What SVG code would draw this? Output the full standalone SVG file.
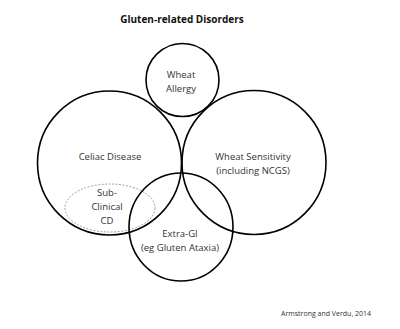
<svg xmlns="http://www.w3.org/2000/svg" width="400" height="329" viewBox="0 0 400 329">
<style>
text{font-family:"Open Sans","Liberation Sans",sans-serif;fill:#333;text-anchor:middle;font-size:9.5px}
.c{fill:none;stroke:#000;stroke-width:1.6}
.d{fill:none;stroke:#888;stroke-width:0.8;stroke-dasharray:2 1.5}
.t{font-weight:bold;font-size:10px;fill:#111}
</style>
<rect width="400" height="329" fill="#fff"/>
<text class="t" x="182" y="23">Gluten-related Disorders</text>
<g id="celiac"><circle class="c" cx="109.5" cy="163" r="72"/><text x="110" y="160">Celiac Disease</text></g>
<g id="subclinical"><ellipse class="d" cx="110" cy="208" rx="45" ry="24"/><text x="107" y="196">Sub-</text><text x="107" y="210">Clinical</text><text x="107" y="224">CD</text></g>
<g id="sensitivity"><circle class="c" cx="254" cy="162.5" r="72"/><text x="253" y="160">Wheat Sensitivity</text><text x="253" y="174">(including NCGS)</text></g>
<g id="extragi"><ellipse class="c" cx="181" cy="227" rx="52" ry="54"/><text x="180" y="237">Extra-GI</text><text x="180" y="251">(eg Gluten Ataxia)</text></g>
<g id="allergy"><circle class="c" cx="182.5" cy="80" r="36.5"/><text x="181" y="78">Wheat</text><text x="181" y="92">Allergy</text></g>
<g id="connectors"></g>
<text x="326" y="316" style="font-size:7px">Armstrong and Verdu, 2014</text>
</svg>
